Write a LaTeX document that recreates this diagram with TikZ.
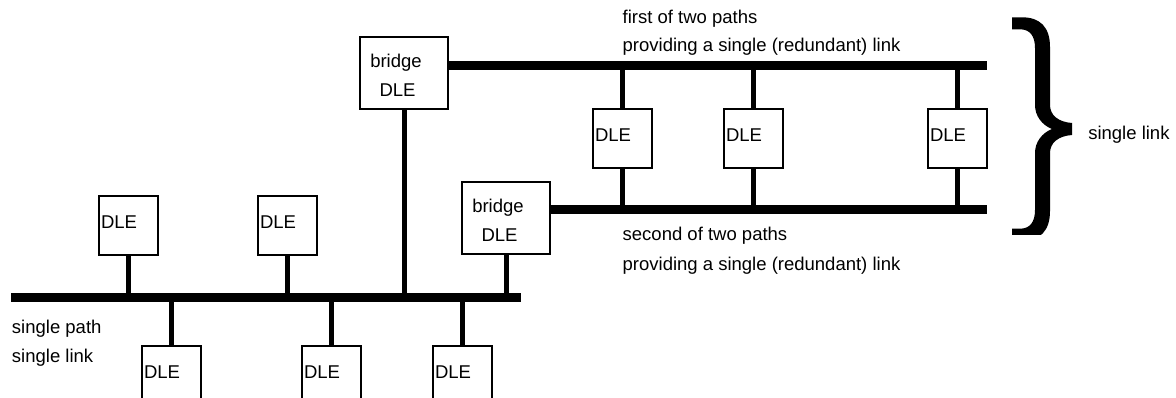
\documentclass[tikz,border=0pt]{standalone}
\usepackage{fontspec}
\setmainfont{Liberation Sans}
\usetikzlibrary{calc}
\begin{document}
\begin{tikzpicture}[x=1pt,y=-1pt,
  every node/.style={inner sep=0pt, outer sep=0pt},
  dlebox/.style={draw, line width=1.8pt, fill=white, minimum width=59pt, minimum height=59pt, anchor=north west},
  bridgebox/.style={draw, line width=1.8pt, fill=white, minimum width=88pt, minimum height=72pt, anchor=north west},
  lbl/.style={font=\fontsize{18.5}{28}\selectfont, anchor=base west},
  ctr/.style={font=\fontsize{18.5}{28}\selectfont, anchor=base},
  bus/.style={line width=9pt},
  stem/.style={line width=5pt},
]
\clip (0,0) rectangle (1176,398);

% stations on the single-path segment
\node[dlebox] (d1) at (99,196) {};
\node[dlebox] (d2) at (258,196) {};
\node[dlebox] (d3) at (142,346) {};
\node[dlebox] (d4) at (302,346) {};
\node[dlebox] (d5) at (433,346) {};
% bridges
\node[bridgebox] (bA) at (360,37) {};
\node[bridgebox] (bB) at (462,182) {};
% stations between the redundant paths
\node[dlebox] (m1) at (593,109) {};
\node[dlebox] (m2) at (724,109) {};
\node[dlebox] (m3) at (928,109) {};

% box labels
\foreach \b in {d1,d2,d3,d4,d5,m1,m2,m3}
  \node[lbl] (\b t) at ($(\b.north west)+(2,32.3)$) {DLE};
\foreach \b in {bA,bB}{
  \node[ctr] (\b t1) at ($(\b.north west)+(36,30.3)$) {bridge};
  \node[ctr] (\b t2) at ($(\b.north west)+(37.5,59.6)$) {DLE};
}

% buses
\coordinate (mainL) at (11,297.5);
\coordinate (mainR) at (521,297.5);
\coordinate (upR) at (987,66);
\coordinate (loR) at (987,210);
\draw[bus] (mainL) -- (mainR);
\draw[bus] (bA.east |- upR) -- (upR);
\draw[bus] (bB.east |- loR) -- (loR);

% drops to the buses
\foreach \b in {d1,d2,bA,bB}
  \draw[stem] (\b.south) -- (\b.south |- mainL);
\foreach \b in {d3,d4,d5}
  \draw[stem] (\b.north) -- (\b.north |- mainL);
\foreach \b in {m1,m2,m3}{
  \draw[stem] (\b.north) -- (\b.north |- upR);
  \draw[stem] (\b.south) -- (\b.south |- loR);
}

% brace grouping the two paths (its lower end is cut square)
\begin{scope}
  \clip (1000,0) rectangle (1080,235);
  \fill (1012,17.3) -- (1022,17.3)
    .. controls (1040,17.3) and (1050,27) .. (1050,47) -- (1050,105)
    .. controls (1050,115) and (1058,122) .. (1072,123) -- (1072,135)
    .. controls (1058,136) and (1050,143) .. (1050,153) -- (1050,211)
    .. controls (1050,231) and (1040,240.7) .. (1022,240.7) -- (1012,240.7)
    -- (1012,228.7) -- (1020,228.7)
    .. controls (1030,228.7) and (1035,222) .. (1035,210) -- (1035,153)
    .. controls (1035,142) and (1042,133) .. (1052,129)
    .. controls (1042,125) and (1035,116) .. (1035,105) -- (1035,48)
    .. controls (1035,36) and (1030,29.3) .. (1020,29.3) -- (1012,29.3) -- cycle;
\end{scope}

% captions
\node[lbl] (t1) at (622.7,23.3) {first of two paths};
\node[lbl] (t2) at (622.7,51.7) {providing a single (redundant) link};
\node[lbl] (t3) at (622.7,241) {second of two paths};
\node[lbl] (t4) at (622.7,271) {providing a single (redundant) link};
\node[lbl] (t5) at (12,333) {single path};
\node[lbl] (t6) at (12,362.7) {single link};
\node[lbl] (t7) at (1088.3,139.5) {single link};
\end{tikzpicture}
\end{document}
